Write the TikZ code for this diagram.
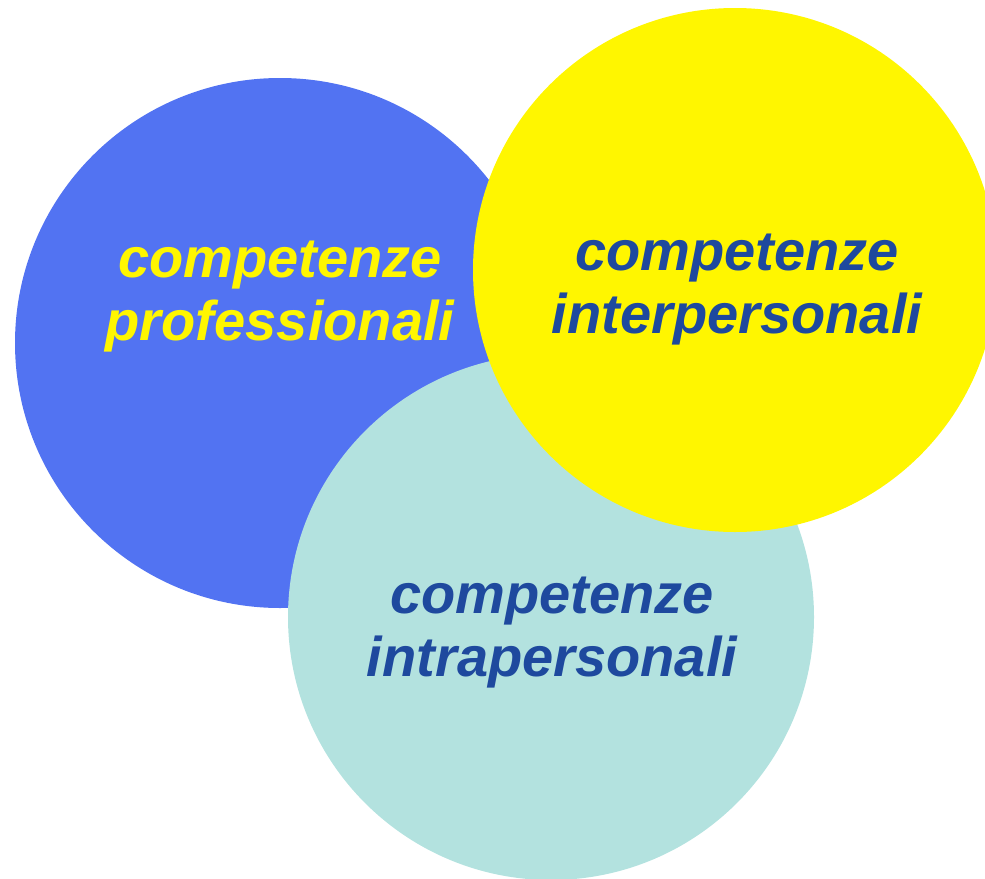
\documentclass[tikz,border=0pt]{standalone}
\usepackage{fontspec}
\setmainfont{Liberation Sans}
\definecolor{profblue}{RGB}{82,115,242}
\definecolor{interyellow}{RGB}{255,246,0}
\definecolor{intrateal}{RGB}{179,226,223}
\definecolor{textblue}{RGB}{30,73,158}
\tikzset{
  label text/.style={align=center,font=\fontsize{56}{63}\selectfont\bfseries\itshape,inner sep=0pt}
}
\begin{document}
\begin{tikzpicture}[x=1pt,y=-1pt]

% Define page area
\useasboundingbox (0,0) rectangle (985,878);
\clip (0,0) rectangle (985,878);

% Construct the three circles
\fill[profblue] (280,343) circle (265);
\fill[intrateal] (551,617) circle (263);
\fill[interyellow] (735,270) circle (262);

% Place the labels
\node[label text,text=interyellow] (prof) at (280,297) {competenze\\professionali};
\node[label text,text=textblue] (inter) at (737,290) {competenze\\interpersonali};
\node[label text,text=textblue] (intra) at (552,633) {competenze\\intrapersonali};
\end{tikzpicture}
\end{document}
